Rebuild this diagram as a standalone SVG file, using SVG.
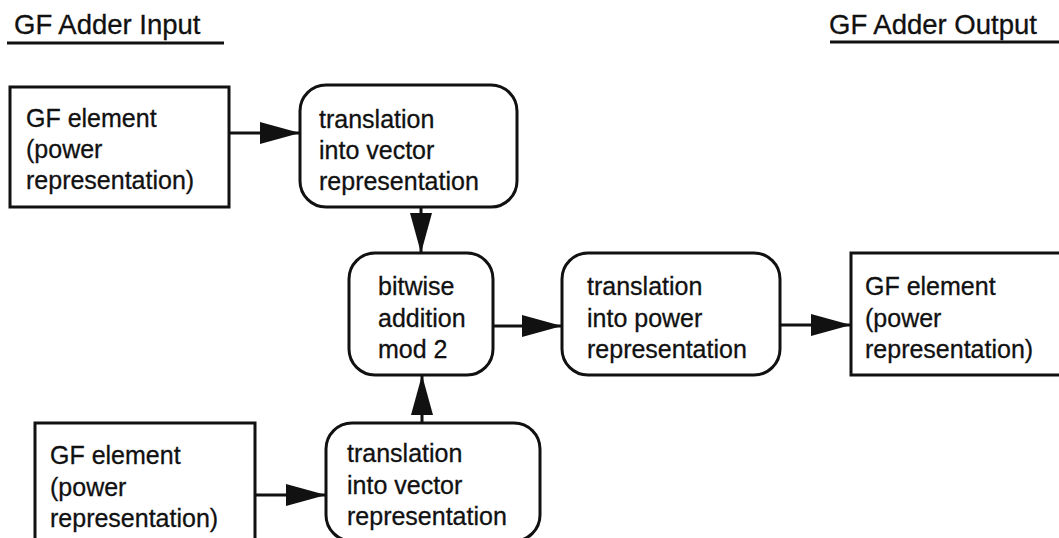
<svg xmlns="http://www.w3.org/2000/svg" width="1059" height="538" viewBox="0 0 1059 538">
  <style>
    text { font-family: "Liberation Sans", Arial, sans-serif; fill: #111; stroke: #111; stroke-width: 0.3; }
    .title { font-size: 27.5px; }
    .lbl { font-size: 25px; }
    .box { fill: #fff; stroke: #111; stroke-width: 3; }
    .rule { stroke: #111; stroke-width: 3; }
    .wire { stroke: #111; stroke-width: 3; fill: none; }
  </style>
  <defs>
    <marker id="head" viewBox="0 0 40 22" refX="40" refY="11" markerWidth="40" markerHeight="22" markerUnits="userSpaceOnUse" orient="auto">
      <path d="M0,0 L40,11 L0,22 Z" fill="#111"/>
    </marker>
  </defs>
  <rect width="1059" height="538" fill="#fff"/>

  <!-- section headings -->
  <g id="heading-input">
    <text class="title" x="14" y="34">GF Adder Input</text>
    <line class="rule" x1="7" y1="43" x2="224" y2="43"/>
  </g>
  <g id="heading-output">
    <text class="title" x="829" y="34">GF Adder Output</text>
    <line class="rule" x1="830" y1="42" x2="1059" y2="42"/>
  </g>

  <!-- connectors -->
  <g id="connectors">
    <line class="wire" x1="229" y1="133" x2="300" y2="133" marker-end="url(#head)"/>
    <line class="wire" x1="421" y1="207" x2="421" y2="253" marker-end="url(#head)"/>
    <line class="wire" x1="493" y1="326" x2="562" y2="326" marker-end="url(#head)"/>
    <line class="wire" x1="780" y1="325" x2="851" y2="325" marker-end="url(#head)"/>
    <line class="wire" x1="255" y1="495" x2="326" y2="495" marker-end="url(#head)"/>
    <line class="wire" x1="422" y1="423" x2="422" y2="375" marker-end="url(#head)"/>
  </g>

  <g id="input-a">
    <rect class="box" x="10" y="87" width="219" height="120"/>
    <text class="lbl" x="26" y="127">GF element</text>
    <text class="lbl" x="26" y="158">(power</text>
    <text class="lbl" x="26" y="189">representation)</text>
  </g>

  <g id="to-vector-a">
    <rect class="box" x="300" y="85" width="217" height="122" rx="26" ry="26"/>
    <text class="lbl" x="319" y="128">translation</text>
    <text class="lbl" x="319" y="159">into vector</text>
    <text class="lbl" x="319" y="190">representation</text>
  </g>

  <g id="adder">
    <rect class="box" x="349" y="253" width="144" height="122" rx="26" ry="26"/>
    <text class="lbl" x="378" y="295">bitwise</text>
    <text class="lbl" x="378" y="327">addition</text>
    <text class="lbl" x="378" y="358">mod 2</text>
  </g>

  <g id="to-power">
    <rect class="box" x="562" y="253" width="218" height="122" rx="26" ry="26"/>
    <text class="lbl" x="587" y="295">translation</text>
    <text class="lbl" x="587" y="327">into power</text>
    <text class="lbl" x="587" y="358">representation</text>
  </g>

  <g id="output">
    <rect class="box" x="851" y="253" width="210" height="122"/>
    <text class="lbl" x="865" y="295">GF element</text>
    <text class="lbl" x="865" y="327">(power</text>
    <text class="lbl" x="865" y="358">representation)</text>
  </g>

  <g id="input-b">
    <rect class="box" x="35" y="423" width="220" height="125"/>
    <text class="lbl" x="50" y="464">GF element</text>
    <text class="lbl" x="50" y="496">(power</text>
    <text class="lbl" x="50" y="527">representation)</text>
  </g>

  <g id="to-vector-b">
    <rect class="box" x="326" y="423" width="214" height="118" rx="26" ry="26"/>
    <text class="lbl" x="347" y="462">translation</text>
    <text class="lbl" x="347" y="494">into vector</text>
    <text class="lbl" x="347" y="525">representation</text>
  </g>
</svg>
